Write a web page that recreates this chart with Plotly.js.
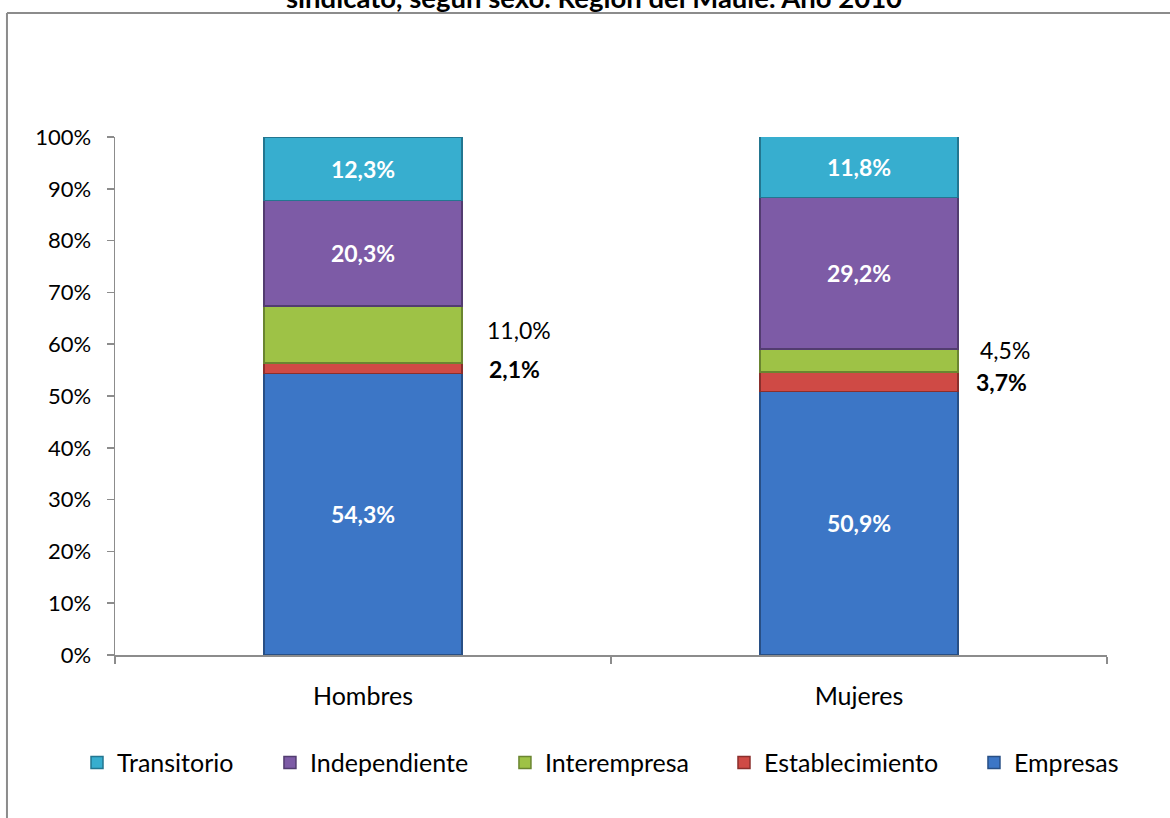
<!DOCTYPE html>
<html>
<head>
<meta charset="utf-8">
<script src="https://cdn.plot.ly/plotly-3.0.1.min.js"></script>
<style>
  html, body { margin: 0; padding: 0; background: #ffffff; }
  #chart { width: 1170px; height: 818px; }
</style>
</head>
<body>
<div id="chart"></div>
<script>
// ---- data ----
const categories = ["Hombres", "Mujeres"];
const seriesNames = ["Empresas", "Establecimiento", "Interempresa", "Independiente", "Transitorio"];
const empresas        = [54.3, 50.9];
const establecimiento = [2.1, 3.7];
const interempresa    = [11.0, 4.5];
const independiente   = [20.3, 29.2];
const transitorio     = [12.3, 11.8];
const yTickVals   = [0, 10, 20, 30, 40, 50, 60, 70, 80, 90, 100];
const yTickLabels = ["0%", "10%", "20%", "30%", "40%", "50%", "60%", "70%", "80%", "90%", "100%"];
const titleText = "sindicato, según sexo. Región del Maule. Año 2010";

// ---- styles ----
const FONT = "Lato, 'Open Sans', sans-serif";
const colors = {
  Empresas: "#3c76c6",
  Establecimiento: "#cf4a45",
  Interempresa: "#9ec246",
  Independiente: "#7d5ba6",
  Transitorio: "#37aecf"
};
const edge = {
  Empresas: "#284f85",
  Establecimiento: "#8a2f2c",
  Interempresa: "#6a8530",
  Independiente: "#523c70",
  Transitorio: "#237690"
};
// one legend per series so the entries can be spaced like the reference
const legendIds = {
  Transitorio: "legend", Independiente: "legend2", Interempresa: "legend3",
  Establecimiento: "legend4", Empresas: "legend5"
};
const legendX = { legend: -0.0383, legend2: 0.1562, legend3: 0.3931, legend4: 0.6139, legend5: 0.8659 };

const seriesValues = [empresas, establecimiento, interempresa, independiente, transitorio];
const insideLabel = [true, false, false, true, true];

const traces = seriesNames.map((name, i) => ({
  type: "bar",
  name: name,
  legend: legendIds[name],
  x: categories,
  y: seriesValues[i],
  marker: { color: colors[name], line: { color: edge[name], width: 1.5 } },
  texttemplate: insideLabel[i] ? "%{y:.1f}%" : undefined,
  textposition: insideLabel[i] ? "inside" : "none",
  insidetextanchor: "middle",
  textangle: 0,
  textfont: { family: FONT, size: 23, color: "#ffffff", weight: "bold" },
  hoverinfo: "skip"
}));

// outside labels for the two small segments
const fmt = v => v.toFixed(1).replace(".", ",") + "%";
const annotations = [];
const interXShift = [156, 146];
const estabXShift = [151, 142];
const interYShift = [4, 11];
const estabYShift = [-1, 0];
categories.forEach((c, k) => {
  const base = empresas[k];
  annotations.push({
    x: c, y: base + establecimiento[k] + interempresa[k] / 2,
    xref: "x", yref: "y", text: fmt(interempresa[k]), showarrow: false,
    xanchor: "center", yanchor: "middle", xshift: interXShift[k], yshift: interYShift[k],
    font: { family: FONT, size: 23, color: "#000000" }
  });
  annotations.push({
    x: c, y: base + establecimiento[k] / 2,
    xref: "x", yref: "y", text: "<b>" + fmt(establecimiento[k]) + "</b>", showarrow: false,
    xanchor: "center", yanchor: "middle", xshift: estabXShift[k], yshift: estabYShift[k],
    font: { family: FONT, size: 23, color: "#000000" }
  });
});
// title (only its last line, partly visible at the top edge as in the reference)
annotations.push({
  x: 0.483, y: 1.2689, xref: "paper", yref: "paper",
  text: "<b>" + titleText + "</b>", showarrow: false,
  xanchor: "center", yanchor: "middle",
  font: { family: FONT, size: 27.5, color: "#000000" }
});

const legendBase = {
  orientation: "h", xanchor: "left", y: -0.208, yanchor: "middle",
  font: { family: FONT, size: 25, color: "#000000" },
  itemwidth: 30, bgcolor: "rgba(0,0,0,0)"
};
const layout = {
  width: 1170, height: 818,
  margin: { l: 115, r: 63, t: 137, b: 163 },
  paper_bgcolor: "rgba(0,0,0,0)",
  plot_bgcolor: "rgba(0,0,0,0)",
  barmode: "stack",
  bargap: 0.6,
  separators: ",.",
  showlegend: true,
  xaxis: {
    type: "category",
    showline: true, linecolor: "#8c8c8c", linewidth: 1.5,
    ticks: "outside", tickson: "boundaries", ticklen: 7, tickcolor: "#8c8c8c", tickwidth: 1.5,
    showgrid: false, zeroline: false,
    tickfont: { family: FONT, size: 25, color: "#000000" },
    ticklabelstandoff: 18
  },
  yaxis: {
    range: [0, 100],
    tickvals: yTickVals, ticktext: yTickLabels,
    showline: true, linecolor: "#8c8c8c", linewidth: 1.5,
    ticks: "outside", ticklen: 7, tickcolor: "#8c8c8c", tickwidth: 1.5,
    showgrid: false, zeroline: false,
    tickfont: { family: FONT, size: 22, color: "#000000" },
    ticklabelstandoff: 11
  },
  annotations: annotations,
  shapes: [
    { type: "line", xref: "paper", yref: "paper", x0: -0.1089, x1: -0.1089, y0: 1.2394, y1: -0.36,
      line: { color: "#8c8c8c", width: 2 } },
    { type: "line", xref: "paper", yref: "paper", x0: -0.1089, x1: 1.08, y0: 1.2394, y1: 1.2394,
      line: { color: "#8c8c8c", width: 2 } }
  ],
  hovermode: false
};
Object.keys(legendX).forEach(id => {
  layout[id] = Object.assign({}, legendBase, { x: legendX[id] });
});

Plotly.newPlot("chart", traces, layout, { displayModeBar: false, staticPlot: true });
</script>
</body>
</html>
